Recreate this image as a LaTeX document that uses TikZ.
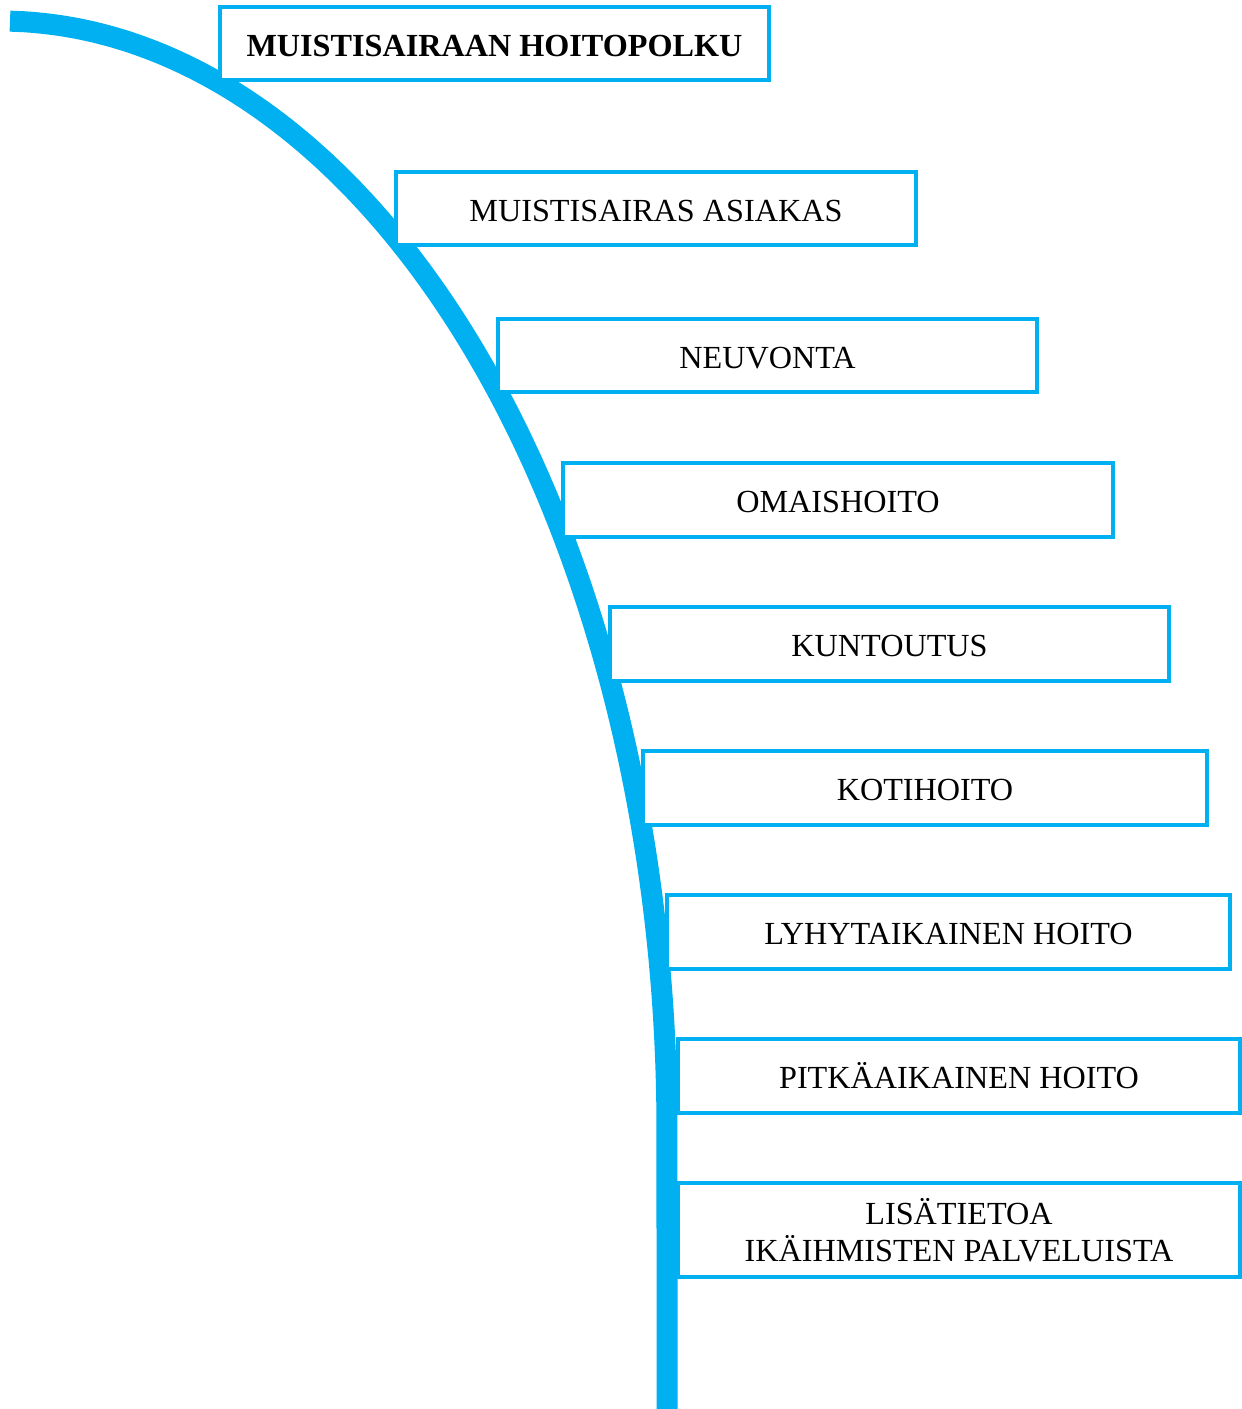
\documentclass[tikz,border=0pt]{standalone}
\usepackage{fontspec}
\setmainfont{Liberation Serif}
\definecolor{pathblue}{RGB}{0,176,240}
\tikzset{
  pbox/.style={draw=pathblue, line width=4pt, fill=white, inner sep=0pt,
    font=\fontsize{32.2}{37}\selectfont, align=center, anchor=center},
  oneline/.style={text height=25pt, text depth=0pt},
  pathline/.style={draw=pathblue, line width=21pt, line cap=butt, line join=round}
}
\begin{document}
\begin{tikzpicture}[x=1pt,y=-1pt]
\useasboundingbox (0,0) rectangle (1242,1409);
% curved path
\draw[pathline] plot[domain=0.859:90, samples=150] ({667*sin(\x)}, {1130-1109*cos(\x)}) -- (667,1409);
% boxes
\node[pbox, oneline, minimum width=549pt, minimum height=73pt] (title) at (494.5,43.5) {\bfseries MUISTISAIRAAN HOITOPOLKU};
\node[pbox, oneline, minimum width=520pt, minimum height=73pt] (asiakas) at (656,208.5) {MUISTISAIRAS ASIAKAS};
\node[pbox, oneline, minimum width=539pt, minimum height=73pt] (neuvonta) at (767.5,355.5) {NEUVONTA};
\node[pbox, oneline, minimum width=550pt, minimum height=74pt] (omais) at (838,500) {OMAISHOITO};
\node[pbox, oneline, minimum width=559pt, minimum height=74pt] (kuntoutus) at (889.5,644) {KUNTOUTUS};
\node[pbox, oneline, minimum width=564pt, minimum height=74pt] (koti) at (925,788) {KOTIHOITO};
\node[pbox, oneline, minimum width=563pt, minimum height=74pt] (lyhyt) at (948.5,932) {LYHYTAIKAINEN HOITO};
\node[pbox, oneline, minimum width=562pt, minimum height=74pt] (pitka) at (959,1076) {PITKÄAIKAINEN HOITO};
\node[pbox, minimum width=562pt, minimum height=94pt] (lisa) at (959,1230) {LISÄTIETOA\\IKÄIHMISTEN PALVELUISTA};
\end{tikzpicture}
\end{document}
